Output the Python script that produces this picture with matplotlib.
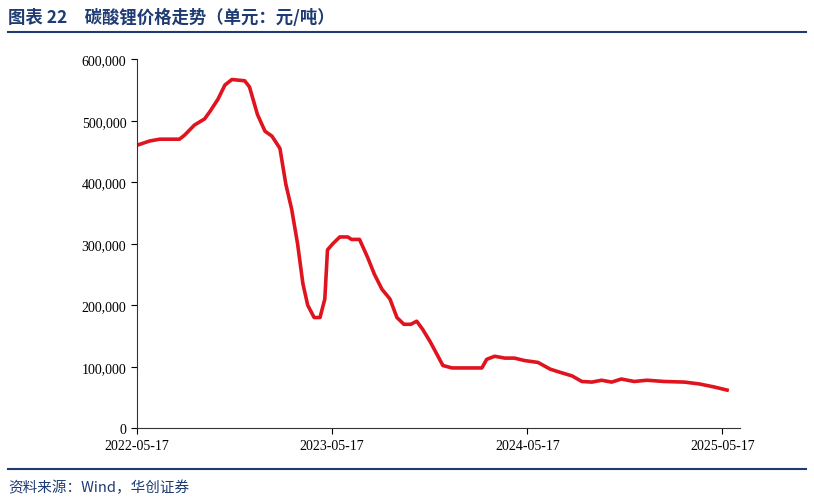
import matplotlib
matplotlib.use("Agg")
import matplotlib.pyplot as plt
from matplotlib.lines import Line2D
import numpy as np

# days since 2022-05-17
days = [0, 24, 43, 80, 90, 108, 127, 137, 152, 165, 178, 202, 211, 226, 240, 253, 268, 279,
        290, 301, 311, 320, 332, 343, 352, 357, 367, 380, 395, 402, 417, 432, 445, 459, 474,
        487, 500, 513, 524, 535, 549, 562, 573, 590, 618, 646, 655, 670, 689, 707, 726, 751,
        774, 792, 815, 833, 852, 870, 889, 907, 931, 955, 987, 1025, 1053, 1081, 1105]
price = [460, 467, 470, 470, 477, 493, 503, 515, 535, 558, 567, 565, 555, 510, 483, 475, 455,
         397, 356, 300, 235, 200, 180, 180, 210, 290, 300, 311, 311, 307, 307, 278, 250, 226,
         210, 180, 169, 169, 174, 161, 141, 120, 102, 98, 98, 98, 112, 117, 114, 114, 110, 107,
         96, 91, 85, 76, 75, 78, 75, 80, 76, 78, 76, 75, 72, 67, 62]
price = [p * 1000 for p in price]
tick_days = [0, 365, 731, 1096]
tick_labels = ["2022-05-17", "2023-05-17", "2024-05-17", "2025-05-17"]

serif = ["Liberation Serif", "DejaVu Serif"]
cjk = ["Noto Sans CJK SC", "DejaVu Sans"]
navy = "#1f3b73"

fig = plt.figure(figsize=(8.14, 5.02), dpi=100)
ax = fig.add_axes([0.168, 0.145, 0.741, 0.735])
ax.plot(days, price, color="#e0141e", lw=2.6, solid_joinstyle="round")
ax.set_xlim(0, 1129)
ax.set_ylim(0, 600000)
ax.set_yticks(np.arange(0, 600001, 100000))
ax.set_yticklabels([f"{v:,}" for v in range(0, 600001, 100000)], family=serif, fontsize=10)
ax.set_xticks(tick_days)
ax.set_xticklabels(tick_labels, family=serif, fontsize=10)
for s in ["top", "right"]:
    ax.spines[s].set_visible(False)
for s in ["left", "bottom"]:
    ax.spines[s].set_color("#333333")
    ax.spines[s].set_linewidth(0.8)
ax.tick_params(direction="out", length=4, width=0.8, colors="black")

fig.text(0.01, 0.965, "图表 22　碳酸锂价格走势（单元：元/吨）", family=cjk, fontsize=12.5,
         fontweight="bold", color=navy, va="center", ha="left")
fig.add_artist(Line2D([0.01, 0.99], [0.934, 0.934], color=navy, lw=1.5, transform=fig.transFigure))
fig.add_artist(Line2D([0.01, 0.99], [0.064, 0.064], color=navy, lw=1.5, transform=fig.transFigure))
fig.text(0.01, 0.028, "资料来源：Wind，华创证券", family=cjk, fontsize=10.5, style="italic",
         color=navy, va="center", ha="left")

fig.savefig("out.png")
